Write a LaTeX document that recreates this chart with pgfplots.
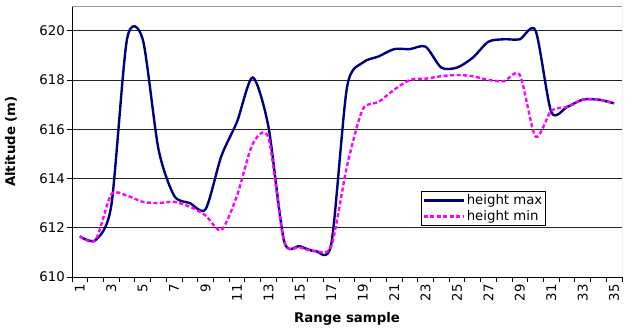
\documentclass[border=0pt]{standalone}
\usepackage{fontspec}
\setmainfont{DejaVu Sans}
\usepackage{pgfplots}
\pgfplotsset{compat=1.18}
\definecolor{navyline}{HTML}{000080}
\definecolor{pinkline}{HTML}{FF00FF}
\pgfplotstableread{
x y
1 611.65
2 611.5
3 612.9
4 619.65
5 619.65
6 615.2
7 613.3
8 613.0
9 612.75
10 614.9
11 616.3
12 618.1
13 616.1
14 611.45
15 611.25
16 611.05
17 611.35
18 617.7
19 618.7
20 618.95
21 619.25
22 619.25
23 619.35
24 618.5
25 618.5
26 618.9
27 619.55
28 619.65
29 619.65
30 620.0
31 616.7
32 616.9
33 617.2
34 617.2
35 617.05
}\maxdata
\pgfplotstableread{
x y
1 611.65
2 611.5
3 613.35
4 613.3
5 613.05
6 613.0
7 613.05
8 612.85
9 612.5
10 611.9
11 613.3
12 615.4
13 615.65
14 611.45
15 611.2
16 611.05
17 611.25
18 614.5
19 616.8
20 617.1
21 617.6
22 618.0
23 618.05
24 618.15
25 618.2
26 618.15
27 618.0
28 617.95
29 618.2
30 615.7
31 616.75
32 616.9
33 617.2
34 617.2
35 617.05
}\mindata
\begin{document}
\fontsize{13.3bp}{16bp}\selectfont
\begin{tikzpicture}
\begin{axis}[
  scale only axis, width=550bp, height=271bp,
  at={(0,0)}, anchor=south west,
  xmin=0.5, xmax=35.5, ymin=610, ymax=621,
  axis x line*=bottom, axis y line*=left,
  axis line style={black, line width=0.8bp, -},
  tick align=outside,
  major tick length=5bp,
  xtick={1,3,...,35},
  xtick style={draw=none},
  extra x ticks={0.5,1.5,...,35.5},
  extra x tick labels={},
  extra x tick style={xtick style={draw=black, line width=0.8bp}},
  xticklabel style={rotate=90, anchor=east, inner sep=2bp},
  ytick={610,612,...,620},
  ytick style={draw=black, line width=0.8bp},
  ymajorgrids,
  grid style={black!85, line width=0.7bp},
  /pgf/number format/assume math mode=true,
  /pgf/number format/1000 sep={},
  yticklabel style={inner sep=2bp},
  xlabel={\bfseries Range sample},
  ylabel={\bfseries Altitude (m)},
  xlabel style={at={(axis description cs:0.5,-0.155)}, anchor=center},
  ylabel style={at={(axis description cs:-0.111,0.5)}, anchor=center},
  legend style={at={(axis description cs:0.6345,0.317)}, anchor=north west,
    draw=black, line width=0.8bp, inner sep=1bp, row sep=0bp,
    font=\fontsize{13.3bp}{16bp}\selectfont},
  legend cell align=left,
  legend image code/.code={\draw[#1] (0bp,0bp) -- (40bp,0bp);},
]
\addplot[navyline, line width=2.4bp, smooth, tension=0.45] table[x=x,y=y] {\maxdata};
\addlegendentry{height max}
\addplot[pinkline, line width=2.4bp, dash pattern=on 4bp off 2.5bp, smooth, tension=0.45] table[x=x,y=y] {\mindata};
\addlegendentry{height min}
\draw[gray!80, line width=0.8bp] (rel axis cs:0,1) -- (rel axis cs:1,1) -- (rel axis cs:1,0);
\end{axis}
\pgfresetboundingbox
\useasboundingbox (-72bp,-52bp) rectangle (560bp,277bp);
\end{tikzpicture}
\end{document}
